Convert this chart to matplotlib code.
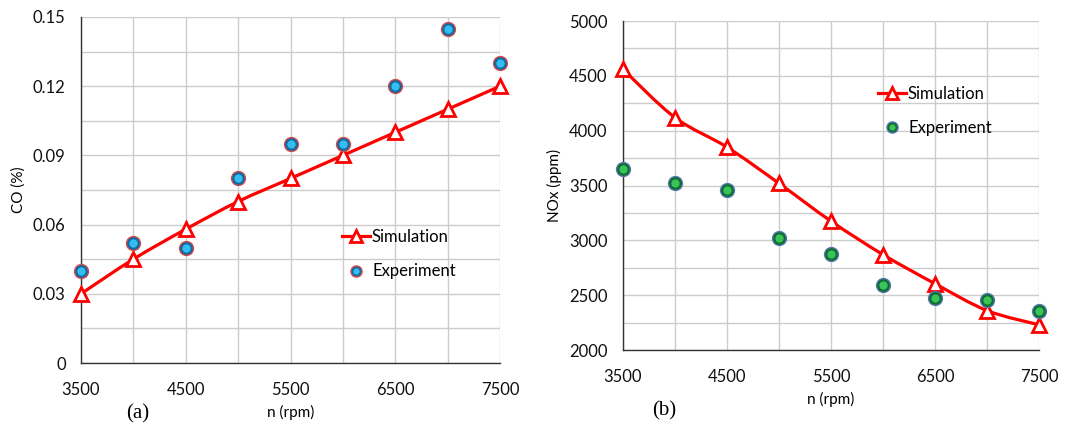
import numpy as np
import matplotlib
matplotlib.use("Agg")
import matplotlib.pyplot as plt
from matplotlib.path import Path
from matplotlib.patches import PathPatch
from matplotlib.lines import Line2D

plt.rcParams['font.family'] = ['Lato', 'DejaVu Sans']

# data
rpm = [3500, 4000, 4500, 5000, 5500, 6000, 6500, 7000, 7500]
co_sim = [0.030, 0.045, 0.058, 0.070, 0.080, 0.090, 0.100, 0.110, 0.120]
co_exp = [0.040, 0.052, 0.050, 0.080, 0.095, 0.095, 0.120, 0.145, 0.130]
nox_sim = [4560, 4120, 3850, 3520, 3175, 2870, 2605, 2360, 2230]
nox_exp = [3655, 3520, 3455, 3025, 2875, 2590, 2475, 2455, 2355]

co_ticks = [0, 0.03, 0.06, 0.09, 0.12, 0.15]
co_labels = ['0', '0.03', '0.06', '0.09', '0.12', '0.15']
nox_ticks = [2000, 2500, 3000, 3500, 4000, 4500, 5000]
x_ticks = [3500, 4500, 5500, 6500, 7500]


def smooth_path(x, y):
    # Excel-style smoothed line: cubic Bezier through the data points
    pts = np.column_stack([x, y]).astype(float)
    n = len(pts)
    verts = [pts[0]]
    codes = [Path.MOVETO]
    for i in range(n - 1):
        p0 = pts[i - 1] if i > 0 else pts[i]
        p3 = pts[i + 2] if i + 2 < n else pts[i + 1]
        c1 = pts[i] + (pts[i + 1] - p0) / 6
        c2 = pts[i + 1] - (p3 - pts[i]) / 6
        verts += [c1, c2, pts[i + 1]]
        codes += [Path.CURVE4] * 3
    return Path(verts, codes)


def draw(ax, sim, exp, outer, inner, rim, ylim, yticks, ylabels, minor_step):
    red = '#ff0000'
    ax.add_patch(PathPatch(smooth_path(rpm, sim), fill=False, edgecolor=red,
                           lw=2.3, zorder=3))
    ax.plot(rpm, sim, ls='none', marker='^', ms=10.5, mfc='white', mec=red,
            mew=2, zorder=4, clip_on=False)
    o, = ax.plot(rpm, exp, ls='none', marker='o', ms=10, mfc=outer, mec=rim,
                 mew=1, zorder=5, clip_on=False)
    i, = ax.plot(rpm, exp, ls='none', marker='o', ms=6, mfc=inner, mec='none',
                 zorder=6, clip_on=False)
    ax.set_xlim(3500, 7500)
    ax.set_ylim(*ylim)
    ax.set_xticks(x_ticks)
    ax.set_xticks(rpm, minor=True)
    ax.set_yticks(yticks)
    if ylabels is not None:
        ax.set_yticklabels(ylabels)
    ax.set_yticks(np.arange(ylim[0], ylim[1] + minor_step / 2, minor_step), minor=True)
    ax.grid(True, which='both', color='#cccccc', lw=1)
    ax.set_axisbelow(True)
    ax.tick_params(which='both', length=0, labelsize=12, colors='#111111')
    ax.tick_params(axis='x', pad=14)
    ax.tick_params(axis='y', pad=11)
    for s in ['top', 'right']:
        ax.spines[s].set_visible(False)
    for s in ['left', 'bottom']:
        ax.spines[s].set_color('#333333')
        ax.spines[s].set_linewidth(1)
    ax.set_xlabel('n (rpm)', fontsize=11, labelpad=5)
    sim_h = Line2D([], [], color=red, lw=2.3, marker='^', ms=9, mfc='white',
                   mec=red, mew=2)
    o_h = Line2D([], [], ls='none', marker='o', ms=8, mfc=outer, mec=rim, mew=1)
    i_h = Line2D([], [], ls='none', marker='o', ms=4.5, mfc=inner, mec='none')
    return sim_h, (o_h, i_h)


fig = plt.figure(figsize=(10.84, 4.30), dpi=100)
ax1 = fig.add_axes([0.0747, 0.1558, 0.3866, 0.8047])
ax2 = fig.add_axes([0.5747, 0.186, 0.3838, 0.765])

h1 = draw(ax1, co_sim, co_exp, '#0b6aa5', '#35bdf0', '#d24a4a', (0, 0.15),
          co_ticks, co_labels, 0.015)
h2 = draw(ax2, nox_sim, nox_exp, '#0b6e2a', '#3cc25a', '#5577b0', (2000, 5000),
          nox_ticks, None, 250)

ax1.set_ylabel('CO (%)', fontsize=11, labelpad=5)
ax2.set_ylabel('NOx (ppm)', fontsize=11, labelpad=5)

for ax, h, (px, py) in [(ax1, h1, (342, 229)), (ax2, h2, (878, 86))]:
    ax.legend(list(h), ['Simulation', 'Experiment'], loc='upper left',
              bbox_to_anchor=(px / 1084, 1 - py / 430), bbox_transform=fig.transFigure,
              frameon=False, fontsize=12, handlelength=1.7, handletextpad=0.1,
              labelspacing=1.1, borderpad=0, borderaxespad=0)

fig.text(138 / 1084, 1 - 414 / 430, '(a)', fontsize=15, family='Liberation Serif',
         ha='center', va='center')
fig.text(664 / 1084, 1 - 411 / 430, '(b)', fontsize=15, family='Liberation Serif',
         ha='center', va='center')

fig.savefig('out.png', dpi=100)
